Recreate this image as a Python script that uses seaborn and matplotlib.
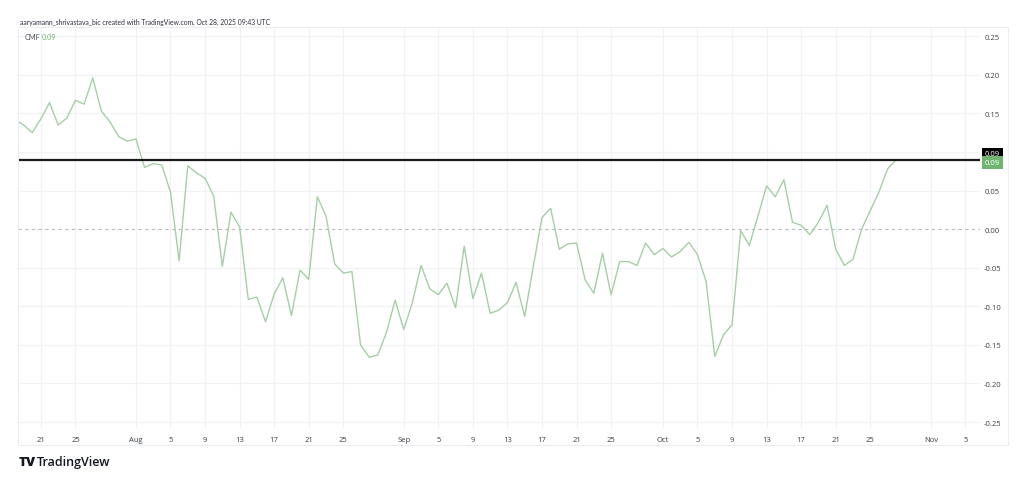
import matplotlib
matplotlib.use("Agg")
import matplotlib.pyplot as plt
import matplotlib.transforms as mtransforms
from matplotlib.patches import Rectangle
import numpy as np
import pandas as pd
import seaborn as sns

# ---------------- data ----------------
start_date = "2025-07-18"
cmf = [
    0.142, 0.135, 0.125, 0.143, 0.164, 0.135, 0.144, 0.167, 0.162, 0.196,
    0.153, 0.139, 0.120, 0.114, 0.117, 0.080, 0.085, 0.083, 0.048, -0.041,
    0.082, 0.073, 0.066, 0.043, -0.048, 0.022, 0.003, -0.091, -0.088, -0.120,
    -0.084, -0.063, -0.112, -0.053, -0.065, 0.042, 0.017, -0.045, -0.057, -0.055,
    -0.150, -0.166, -0.163, -0.134, -0.092, -0.130, -0.095, -0.047, -0.077, -0.085,
    -0.070, -0.102, -0.022, -0.090, -0.057, -0.109, -0.105, -0.095, -0.069, -0.113,
    -0.048, 0.015, 0.027, -0.026, -0.019, -0.018, -0.066, -0.083, -0.031, -0.085,
    -0.042, -0.042, -0.047, -0.018, -0.033, -0.025, -0.036, -0.029, -0.017, -0.033,
    -0.068, -0.165, -0.137, -0.124, -0.002, -0.021, 0.017, 0.056, 0.042, 0.064,
    0.009, 0.005, -0.007, 0.009, 0.031, -0.026, -0.047, -0.039, 0.000, 0.024,
    0.048, 0.078, 0.090,
]
hline_level = 0.09
last_value_label = "0.09"
tick_dates = ["2025-07-21", "2025-07-25", "2025-08-01", "2025-08-05", "2025-08-09",
              "2025-08-13", "2025-08-17", "2025-08-21", "2025-08-25", "2025-09-01",
              "2025-09-05", "2025-09-09", "2025-09-13", "2025-09-17", "2025-09-21",
              "2025-09-25", "2025-10-01", "2025-10-05", "2025-10-09", "2025-10-13",
              "2025-10-17", "2025-10-21", "2025-10-25", "2025-11-01", "2025-11-05"]
tick_labels = ["21", "25", "Aug", "5", "9", "13", "17", "21", "25", "Sep",
               "5", "9", "13", "17", "21", "25", "Oct", "5", "9", "13",
               "17", "21", "25", "Nov", "5"]
y_ticks = [0.25, 0.20, 0.15, 0.10, 0.05, 0.00, -0.05, -0.10, -0.15, -0.20, -0.25]
header = "aaryamann_shrivastava_bic created with TradingView.com, Oct 28, 2025 09:43 UTC"

# ---------------- style ----------------
sns.set_theme(style="white")
plt.rcParams["font.family"] = ["Open Sans", "DejaVu Sans"]

LINE_C = "#a5cfa5"
GRID_C = "#f0f2f5"
TEXT_C = "#3a3e48"

W, H = 1024, 489
fig = plt.figure(figsize=(W / 100, H / 100), dpi=100)
fig.patch.set_facecolor("white")
ax = fig.add_axes([18 / W, 1 - 430 / H, (980 - 18) / W, (430 - 28) / H])

dates = pd.date_range(start_date, periods=len(cmf), freq="D")
df = pd.DataFrame({"date": dates, "cmf": cmf})

# grid
for t in tick_dates:
    ax.axvline(pd.Timestamp(t), color=GRID_C, lw=0.9, zorder=0)
for yv in y_ticks:
    if yv != 0:
        ax.axhline(yv, color=GRID_C, lw=0.9, zorder=0)

ax.axhline(0.0, color="#b8bbc2", lw=0.8, ls=(0, (3, 3)), zorder=1)

sns.lineplot(data=df, x="date", y="cmf", ax=ax, color=LINE_C, linewidth=1.0, zorder=3)
ax.axhline(hline_level, color="#1a1a1a", lw=1.6, zorder=4)

t0 = pd.Timestamp(start_date)
ax.set_xlim(t0 + pd.Timedelta(days=0.35), t0 + pd.Timedelta(days=111.7))
ax.set_ylim(-0.259, 0.262)

ax.set_xticks([pd.Timestamp(t) for t in tick_dates])
ax.set_xticklabels(tick_labels)
ax.yaxis.tick_right()
ax.set_yticks(y_ticks)
ax.set_yticklabels([f"{v:.2f}" for v in y_ticks])
ax.tick_params(axis="both", length=0, labelsize=5.5, labelcolor=TEXT_C)
ax.tick_params(axis="y", pad=3)
ax.tick_params(axis="x", pad=5)
ax.set_xlabel("")
ax.set_ylabel("")
for s in ax.spines.values():
    s.set_visible(False)

# price labels on the right axis
trans = mtransforms.blended_transform_factory(ax.transAxes, ax.transData)
ax.annotate(last_value_label, xy=(1.0, hline_level), xycoords=trans,
            xytext=(3.5, 4.3), textcoords="offset points", ha="left", va="center",
            fontsize=5.5, color="white", annotation_clip=False,
            bbox=dict(boxstyle="square,pad=0.35", fc="#000000", ec="none"))
ax.annotate(last_value_label, xy=(1.0, hline_level), xycoords=trans,
            xytext=(3.5, -2.0), textcoords="offset points", ha="left", va="center",
            fontsize=5.5, color="white", annotation_clip=False,
            bbox=dict(boxstyle="square,pad=0.35", fc="#6fb56f", ec="none"))

# outer pane frame
fig.patches.append(Rectangle((18 / W, 1 - 446 / H), (1008 - 18) / W, (446 - 28) / H,
                             transform=fig.transFigure, fill=False,
                             ec="#ebedf0", lw=0.8))

# header & legend texts
fig.text(20 / W, 1 - 22 / H, header, fontsize=4.9, color="#2a2e39", va="center", ha="left",
         family=["Lato", "DejaVu Sans"])
fig.text(25 / W, 1 - 37 / H, "CMF", fontsize=5.3, color="#50535e", va="center", ha="left",
         family=["Lato", "DejaVu Sans"])
fig.text(42 / W, 1 - 37 / H, last_value_label, fontsize=5.3, color="#6fb56f", va="center",
         ha="left", family=["Lato", "DejaVu Sans"])

# TradingView logo text
fig.text(19 / W, 1 - 463 / H, "TV", fontsize=9.5, color="#131722", va="center", ha="left",
         fontweight="heavy")
fig.text(37 / W, 1 - 463 / H, "TradingView", fontsize=9.0, color="#131722", va="center",
         ha="left", fontweight="semibold")

fig.savefig("out.png", dpi=100, facecolor="white")
